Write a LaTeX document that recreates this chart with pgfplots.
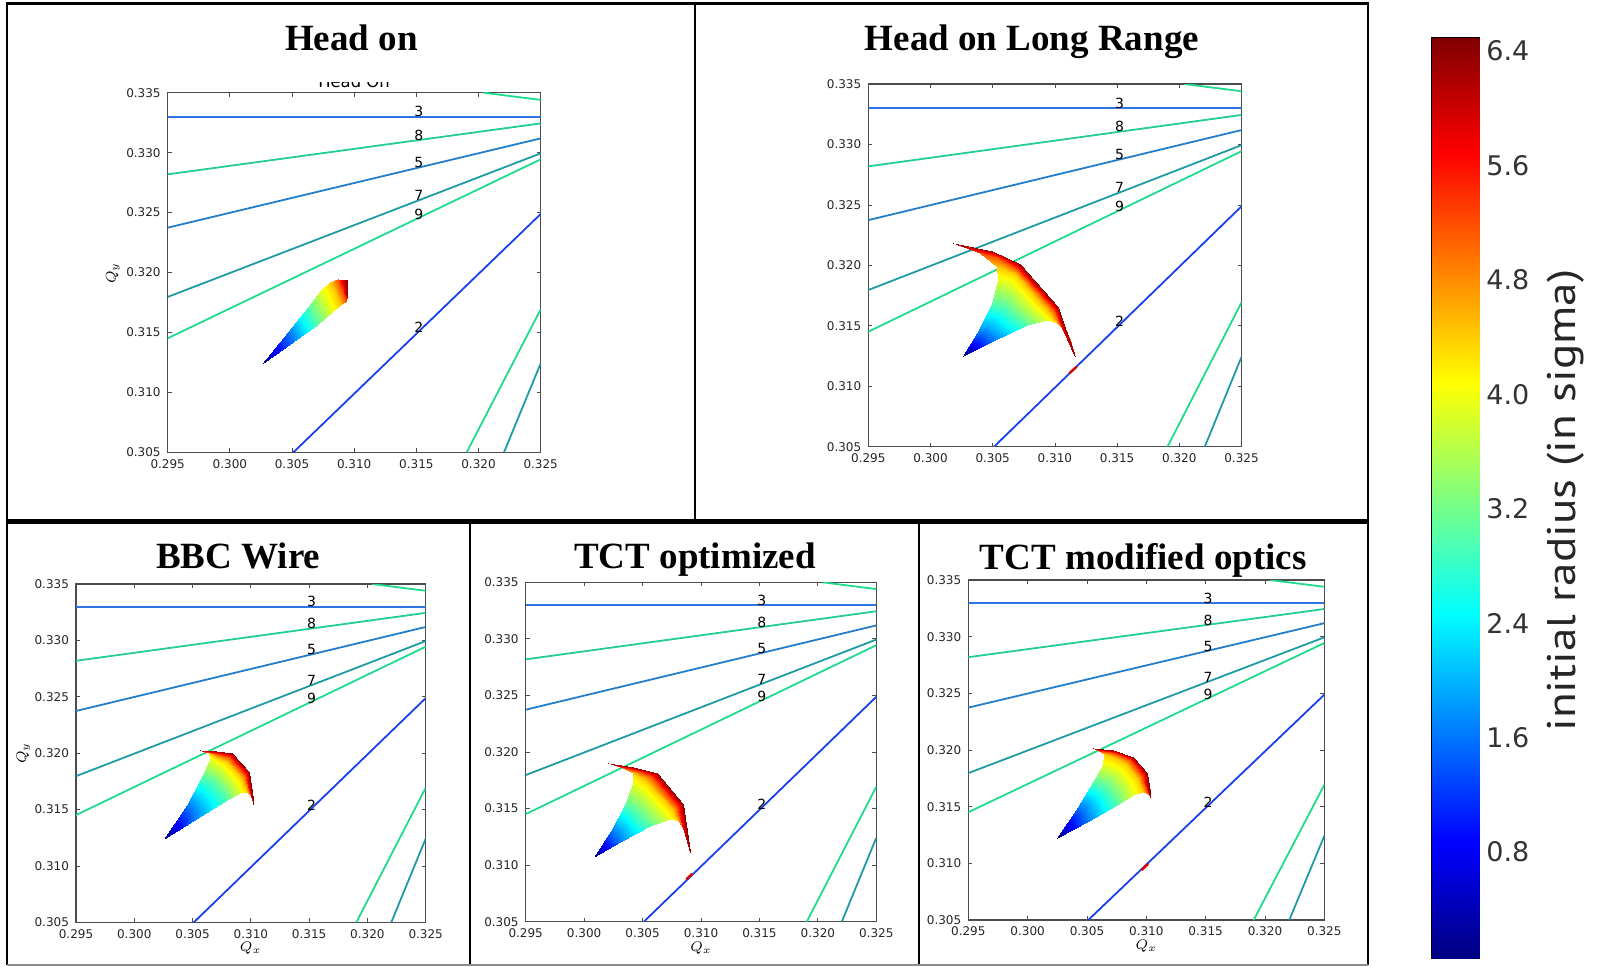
\documentclass[border=0pt]{standalone}
\usepackage{fontspec}
\usepackage{pgfplots}
\pgfplotsset{compat=1.18}
\newfontfamily\dejavu{DejaVu Sans}
\newfontfamily\serifb{Liberation Serif}
\newfontfamily\ptsans{PT Sans}[FakeStretch=1.18]

\definecolor{cII}{RGB}{25,65,235}
\definecolor{cIII}{RGB}{45,115,225}
\definecolor{cV}{RGB}{35,125,200}
\definecolor{cVII}{RGB}{30,155,165}
\definecolor{cVIII}{RGB}{35,205,150}
\definecolor{cIX}{RGB}{30,220,140}

\newcommand{\tickfont}{\dejavu\fontsize{6}{7}\selectfont}
\newcommand{\resfont}{\dejavu\fontsize{7}{8}\selectfont}
\newcommand{\titlef}{\serifb\bfseries\fontsize{18.5}{20}\selectfont}

\pgfplotsset{
  tune/.style={
    scale only axis, anchor=south west,
    xmin=0.295, xmax=0.325, ymin=0.305, ymax=0.335,
    xtick={0.295,0.3,0.305,0.31,0.315,0.32,0.325},
    ytick={0.305,0.31,0.315,0.32,0.325,0.33,0.335},
    scaled ticks=false,
    /pgf/number format/.cd, fixed, fixed zerofill, precision=3, assume math mode=true,
    /pgfplots/.cd,
    tick label style={font=\tickfont, text=black!85},
    tick align=inside, tick pos=both, major tick length=2pt,
    tick style={black!70, line width=0.4pt},
    axis line style={black!70, line width=0.6pt},
    colormap/jet, point meta min=0.06, point meta max=6.49,
  },
  fp/.style={surf, shader=interp, mesh/cols=#1, point meta=explicit},
}

% resonance lines, the same in every panel
\newcommand{\resonances}{%
  \addplot[cIX, line width=0.9pt] coordinates {(0.3204,0.335) (0.325,0.3344)};
  \addplot[cIX, line width=0.9pt] coordinates {(0.31905,0.305) (0.325,0.31693)};
  \addplot[cVII, line width=0.9pt] coordinates {(0.32205,0.305) (0.325,0.31242)};
  \addplot[cIX, line width=0.9pt] coordinates {(0.295,0.31451) (0.325,0.32944)};
  \addplot[cVII, line width=0.9pt] coordinates {(0.295,0.31796) (0.325,0.32994)};
  \addplot[cV, line width=0.9pt] coordinates {(0.295,0.32374) (0.325,0.33119)};
  \addplot[cVIII, line width=0.9pt] coordinates {(0.295,0.32819) (0.325,0.33244)};
  \addplot[cIII, line width=1pt] coordinates {(0.295,0.3330) (0.325,0.3330)};
  \addplot[cII, line width=0.9pt] coordinates {(0.30511,0.305) (0.325,0.32488)};
  \node[font=\resfont] at (axis cs:0.3152,0.33342) {3};
  \node[font=\resfont] at (axis cs:0.3152,0.33147) {8};
  \node[font=\resfont] at (axis cs:0.3152,0.32916) {5};
  \node[font=\resfont] at (axis cs:0.3152,0.32641) {7};
  \node[font=\resfont] at (axis cs:0.3152,0.32488) {9};
  \node[font=\resfont] at (axis cs:0.3152,0.31540) {2};
}

\begin{document}
\begin{tikzpicture}
\path[use as bounding box] (0,0) rectangle (801pt,483pt);

% ---------- Head on ----------
\begin{axis}[tune, at={(83.85pt,256.85pt)}, width=186.5pt, height=179.8pt]
\resonances
\addplot[fp=3] table[meta=c, row sep=\\] {
x y c\\
0.30261 0.31237 0\\ 0.30261 0.31237 0\\ 0.30261 0.31237 0\\
0.30511 0.31423 1.6\\ 0.30491 0.31465 1.6\\ 0.30471 0.31507 1.6\\
0.30698 0.31562 3.0\\ 0.30665 0.31636 3.0\\ 0.30631 0.31710 3.0\\
0.30819 0.31674 3.9\\ 0.30776 0.31764 3.9\\ 0.30733 0.31854 3.9\\
0.30886 0.31729 4.4\\ 0.30846 0.31827 4.4\\ 0.30806 0.31924 4.4\\
0.30934 0.31765 5.2\\ 0.30904 0.31854 5.2\\ 0.30873 0.31943 5.2\\
0.30945 0.31813 6.4\\ 0.30943 0.31876 6.4\\ 0.30940 0.31938 6.4\\
};
\end{axis}

% ---------- Head on Long Range ----------
\begin{axis}[tune, at={(434.15pt,259.65pt)}, width=186.6pt, height=181.35pt]
\resonances
\addplot[fp=5] table[meta=c, row sep=\\] {
x y c\\
0.30259 0.31250 0\\ 0.30259 0.31250 0\\ 0.30259 0.31250 0\\ 0.30259 0.31250 0\\ 0.30259 0.31250 0\\
0.30505 0.31377 1.6\\ 0.30478 0.31396 1.6\\ 0.30425 0.31438 1.6\\ 0.30398 0.31438 1.6\\ 0.30371 0.31438 1.6\\
0.30773 0.31507 3.0\\ 0.30720 0.31548 3.0\\ 0.30599 0.31653 3.0\\ 0.30545 0.31672 3.0\\ 0.30492 0.31686 3.0\\
0.30934 0.31548 3.9\\ 0.30880 0.31598 3.9\\ 0.30653 0.31838 3.9\\ 0.30599 0.31865 3.9\\ 0.30540 0.31879 3.9\\
0.31028 0.31526 4.4\\ 0.30955 0.31609 4.4\\ 0.30679 0.31928 4.4\\ 0.30607 0.31962 4.4\\ 0.30532 0.31989 4.4\\
0.31116 0.31410 5.2\\ 0.30993 0.31631 5.2\\ 0.30698 0.31967 5.2\\ 0.30532 0.32066 5.2\\ 0.30398 0.32099 5.2\\
0.31162 0.31245 6.4\\ 0.31028 0.31653 6.4\\ 0.30720 0.32008 6.4\\ 0.30492 0.32119 6.4\\ 0.30184 0.32188 6.4\\
};
\addplot[red!85!black, line width=1.2pt] coordinates {(0.31116,0.31107) (0.31175,0.31162)};
\end{axis}

% ---------- BBC Wire ----------
\begin{axis}[tune, at={(38pt,21.85pt)}, width=174.85pt, height=169.15pt]
\resonances
\addplot[fp=5] table[meta=c, row sep=\\] {
x y c\\
0.30258 0.31239 0\\ 0.30258 0.31239 0\\ 0.30258 0.31239 0\\ 0.30258 0.31239 0\\ 0.30258 0.31239 0\\
0.30507 0.31401 1.6\\ 0.30501 0.31452 1.6\\ 0.30478 0.31508 1.6\\ 0.30464 0.31525 1.6\\ 0.30450 0.31540 1.6\\
0.30793 0.31585 3.0\\ 0.30759 0.31650 3.0\\ 0.30664 0.31756 3.0\\ 0.30621 0.31774 3.0\\ 0.30578 0.31792 3.0\\
0.30907 0.31644 3.9\\ 0.30864 0.31732 3.9\\ 0.30750 0.31865 3.9\\ 0.30701 0.31904 3.9\\ 0.30650 0.31945 3.9\\
0.30970 0.31659 4.4\\ 0.30913 0.31777 4.4\\ 0.30793 0.31922 4.4\\ 0.30713 0.31954 4.4\\ 0.30644 0.31998 4.4\\
0.31007 0.31614 5.2\\ 0.30950 0.31806 5.2\\ 0.30816 0.31963 5.2\\ 0.30707 0.31990 5.2\\ 0.30598 0.32007 5.2\\
0.31027 0.31531 6.4\\ 0.30987 0.31836 6.4\\ 0.30836 0.31998 6.4\\ 0.30701 0.32022 6.4\\ 0.30564 0.32028 6.4\\
};
\end{axis}

% ---------- TCT optimized ----------
\begin{axis}[tune, at={(262.85pt,22.15pt)}, width=175.3pt, height=169.7pt]
\resonances
\addplot[fp=5] table[meta=c, row sep=\\] {
x y c\\
0.30087 0.31074 0\\ 0.30087 0.31074 0\\ 0.30087 0.31074 0\\ 0.30087 0.31074 0\\ 0.30087 0.31074 0\\
0.30307 0.31207 1.6\\ 0.30284 0.31228 1.6\\ 0.30250 0.31281 1.6\\ 0.30238 0.31293 1.6\\ 0.30227 0.31304 1.6\\
0.30564 0.31346 3.0\\ 0.30521 0.31384 3.0\\ 0.30421 0.31493 3.0\\ 0.30387 0.31511 3.0\\ 0.30350 0.31531 3.0\\
0.30735 0.31410 3.9\\ 0.30678 0.31458 3.9\\ 0.30492 0.31658 3.9\\ 0.30455 0.31693 3.9\\ 0.30415 0.31729 3.9\\
0.30812 0.31393 4.4\\ 0.30749 0.31493 4.4\\ 0.30535 0.31738 4.4\\ 0.30478 0.31776 4.4\\ 0.30421 0.31811 4.4\\
0.30863 0.31296 5.2\\ 0.30792 0.31517 5.2\\ 0.30578 0.31782 5.2\\ 0.30449 0.31832 5.2\\ 0.30335 0.31855 5.2\\
0.30906 0.31119 6.4\\ 0.30843 0.31540 6.4\\ 0.30621 0.31811 6.4\\ 0.30421 0.31870 6.4\\ 0.30201 0.31900 6.4\\
};
\addplot[red!85!black, line width=1.2pt] coordinates {(0.30875,0.30875) (0.30925,0.30925)};
\end{axis}

% ---------- TCT modified optics ----------
\begin{axis}[tune, at={(484.15pt,23pt)}, width=178pt, height=170pt]
\resonances
\addplot[fp=5] table[meta=c, row sep=\\] {
x y c\\
0.30245 0.31221 0\\ 0.30245 0.31221 0\\ 0.30245 0.31221 0\\ 0.30245 0.31221 0\\ 0.30245 0.31221 0\\
0.30497 0.31368 1.6\\ 0.30483 0.31418 1.6\\ 0.30455 0.31477 1.6\\ 0.30441 0.31485 1.6\\ 0.30427 0.31494 1.6\\
0.30750 0.31515 3.0\\ 0.30722 0.31583 3.0\\ 0.30652 0.31677 3.0\\ 0.30604 0.31700 3.0\\ 0.30554 0.31721 3.0\\
0.30891 0.31600 3.9\\ 0.30857 0.31691 3.9\\ 0.30764 0.31818 3.9\\ 0.30700 0.31838 3.9\\ 0.30632 0.31868 3.9\\
0.30969 0.31630 4.4\\ 0.30924 0.31750 4.4\\ 0.30829 0.31877 4.4\\ 0.30736 0.31927 4.4\\ 0.30644 0.31965 4.4\\
0.31017 0.31612 5.2\\ 0.30967 0.31774 5.2\\ 0.30863 0.31912 5.2\\ 0.30728 0.31971 5.2\\ 0.30604 0.31988 5.2\\
0.31037 0.31574 6.4\\ 0.31003 0.31794 6.4\\ 0.30891 0.31941 6.4\\ 0.30722 0.32003 6.4\\ 0.30548 0.32015 6.4\\
};
\addplot[red!85!black, line width=1.2pt] coordinates {(0.30960,0.30940) (0.31015,0.30995)};
\end{axis}

% ---------- colour bar ----------
\begin{axis}[at={(716.2pt,4pt)}, anchor=south west, scale only axis,
  width=23.5pt, height=460pt,
  xmin=0, xmax=1, ymin=0.06, ymax=6.49,
  xtick=\empty, ytick={0.8,1.6,2.4,3.2,4.0,4.8,5.6,6.4},
  yticklabel pos=right, ytick pos=right, tick align=inside, major tick length=5pt,
  /pgf/number format/.cd, fixed, fixed zerofill, precision=1, assume math mode=true,
  /pgfplots/.cd,
  yticklabel style={font=\dejavu\fontsize{13.5}{15}\selectfont, text=black!80},
  tick style={black!80, line width=0.6pt},
  axis line style={black, line width=1pt},
  colormap/jet, point meta min=0.06, point meta max=6.49]
\addplot[surf, shader=interp, mesh/cols=2, point meta=y] coordinates {
  (0,0.06) (1,0.06)
  (0,6.49) (1,6.49)
};
\end{axis}
\node[rotate=90, font=\ptsans\fontsize{20}{22}\selectfont, text=black!85] at (783pt,232.7pt) {initial radius (in sigma)};

% ---------- titles and axis labels ----------
\node[anchor=base, font=\titlef] at (175.75pt,457.5pt) {Head on};
\node[anchor=base, font=\titlef] at (515.95pt,457.5pt) {Head on Long Range};
\node[anchor=base, font=\titlef] at (119.15pt,198.85pt) {BBC Wire};
\node[anchor=base, font=\titlef] at (347.5pt,198.85pt) {TCT optimized};
\node[anchor=base, font=\titlef] at (571.65pt,198.35pt) {TCT modified optics};

\begin{scope}
\clip (100pt,430pt) rectangle (260pt,441.5pt);
\node[anchor=base, font=\dejavu\fontsize{8.2}{9}\selectfont] at (177pt,439.25pt) {Head On};
\end{scope}

\node[rotate=90, font=\fontsize{7.5}{8}\selectfont] at (56.35pt,346.35pt) {$Q_y$};
\node[rotate=90, font=\fontsize{7.5}{8}\selectfont] at (11.67pt,106.35pt) {$Q_y$};
\node[font=\fontsize{7.5}{8}\selectfont] at (125.35pt,8.85pt) {$Q_x$};
\node[font=\fontsize{7.5}{8}\selectfont] at (350.5pt,9.15pt) {$Q_x$};
\node[font=\fontsize{7.5}{8}\selectfont] at (573.15pt,10pt) {$Q_x$};

% ---------- panel frames ----------
\draw[line width=1.5pt] (3pt,481.25pt) -- (684.25pt,481.25pt);
\draw[line width=1pt] (3.25pt,481.25pt) -- (3.25pt,0.5pt);
\draw[line width=1pt] (683.75pt,481.25pt) -- (683.75pt,0.5pt);
\draw[line width=1pt] (347.25pt,481.25pt) -- (347.25pt,222.25pt);
\draw[line width=2.25pt] (3.25pt,222.25pt) -- (683.75pt,222.25pt);
\draw[line width=1pt] (235pt,222.25pt) -- (235pt,0.5pt);
\draw[line width=1pt] (459.5pt,222.25pt) -- (459.5pt,0.5pt);
\draw[black!45, line width=0.6pt] (3.25pt,0.5pt) -- (683.75pt,0.5pt);
\end{tikzpicture}
\end{document}
